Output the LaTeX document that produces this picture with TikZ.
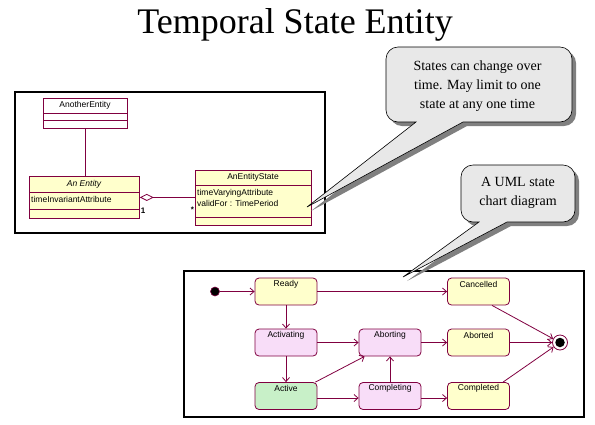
\documentclass[tikz,border=0pt]{standalone}
\usepackage{fontspec}
\setmainfont{Liberation Serif}
\setsansfont{Liberation Sans}
\usetikzlibrary{arrows.meta,calc}
\definecolor{umlline}{RGB}{128,0,64}
\definecolor{classfill}{RGB}{255,255,204}
\definecolor{pinkfill}{RGB}{248,221,248}
\definecolor{greenfill}{RGB}{200,240,200}
\definecolor{callfill}{RGB}{232,232,232}
\definecolor{shadowgray}{RGB}{128,128,128}
\newcommand\bubbleOne{(416,122) -- (307,207) -- (463,122) -- (560,122) arc[start angle=90,end angle=0,radius=12] -- (572,59) arc[start angle=0,end angle=-90,radius=12] -- (398,47) arc[start angle=-90,end angle=-180,radius=12] -- (386,110) arc[start angle=180,end angle=90,radius=12] -- cycle}
\newcommand\bubbleTwo{(479,222) -- (403,277) -- (507,222) -- (563,222) arc[start angle=90,end angle=0,radius=12] -- (575,177) arc[start angle=0,end angle=-90,radius=12] -- (473,165) arc[start angle=-90,end angle=-180,radius=12] -- (461,210) arc[start angle=180,end angle=90,radius=12] -- cycle}
\begin{document}
\begin{tikzpicture}[x=1pt,y=-1pt,
  frame/.style={draw=black,line width=2.5pt},
  classbox/.style={draw=umlline,fill=classfill,line width=0.8pt,inner sep=0pt,anchor=north west},
  divider/.style={draw=umlline,line width=0.8pt},
  ctext/.style={font=\sffamily\fontsize{8.5}{10}\selectfont,inner sep=0pt},
  statebox/.style={draw=umlline,line width=0.8pt,rounded corners=4pt,minimum width=62pt,minimum height=27pt,inner sep=0pt},
  stext/.style={font=\sffamily\fontsize{8.5}{10}\selectfont,inner sep=0pt},
  trans/.style={draw=umlline,line width=0.8pt,-{Straight Barb[length=4pt,width=7pt]}},
  calltext/.style={font=\fontsize{14}{19}\selectfont,align=center,inner sep=0pt},
  bubble/.style={fill=callfill,draw=black,line width=0.6pt},
  bubbleshadow/.style={fill=shadowgray}
]
\useasboundingbox (0,0) rectangle (595,424);

% title
\node[font=\fontsize{36}{40}\selectfont,anchor=base,inner sep=0pt] (title) at (295,33) {Temporal State Entity};

% ---------- class diagram ----------
\draw[frame] (15,92) rectangle (325,233);

\node[classbox,fill=white,minimum width=84pt,minimum height=30pt] (another) at (43,98) {};
\draw[divider] (43,113) -- (127,113) (43,120) -- (127,120);
\node[ctext] (anotherT) at (85,105.5) {AnotherEntity};

\node[classbox,minimum width=110pt,minimum height=42pt] (entity) at (29,176) {};
\draw[divider] (29,192) -- (139,192) (29,209) -- (139,209);
\node[ctext,font=\sffamily\itshape\fontsize{8.5}{10}\selectfont] (entityT) at (84,184) {An Entity};
\node[ctext,anchor=west] (entityA) at (31,199.5) {timeInvariantAttribute};

\node[classbox,minimum width=116pt,minimum height=55pt] (state) at (195,170) {};
\draw[divider] (195,185) -- (311,185) (195,217) -- (311,217);
\node[ctext] (stateT) at (253,177.5) {AnEntityState};
\node[ctext,anchor=west] (stateA1) at (197,193.5) {timeVaryingAttribute};
\node[ctext,anchor=west] (stateA2) at (197,203.5) {validFor : TimePeriod};

\draw[umlline,line width=0.8pt] (another.south) -- (another.south |- entity.north);
\draw[umlline,line width=0.8pt,{Diamond[open,length=14pt,width=7pt,fill=white]}-] (entity.east) -- (entity.east -| state.west);
\node[ctext,font=\sffamily\bfseries\fontsize{8}{10}\selectfont] (mult1) at (143,211) {1};
\node[ctext,font=\sffamily\bfseries\fontsize{8}{10}\selectfont] (multS) at (192.5,210) {*};

% ---------- state chart ----------
\draw[frame] (184,271) rectangle (584,417);

\node[circle,fill=black,draw=umlline,line width=0.6pt,minimum size=9pt,inner sep=0pt] (init) at (215,291.5) {};
\node[circle,draw=umlline,fill=white,line width=0.8pt,minimum size=15pt,inner sep=0pt] (final) at (560,342.5) {};
\node[circle,fill=black,minimum size=9.5pt,inner sep=0pt] (finaldot) at (final) {};

\node[statebox,fill=classfill] (ready) at (286,291.5) {};
\node[statebox,fill=classfill] (cancelled) at (478.5,291.5) {};
\node[statebox,fill=pinkfill] (activating) at (286,342.5) {};
\node[statebox,fill=pinkfill] (aborting) at (390,342.5) {};
\node[statebox,fill=classfill] (aborted) at (478.5,342.5) {};
\node[statebox,fill=greenfill] (active) at (286,396) {};
\node[statebox,fill=pinkfill] (completing) at (390,396) {};
\node[statebox,fill=classfill] (completed) at (478.5,396) {};

\node[stext] (readyT) at ([yshift=-6.5pt]ready.north) {Ready};
\node[stext] (cancelledT) at ([yshift=-6.5pt]cancelled.north) {Cancelled};
\node[stext] (activatingT) at ([yshift=-6.5pt]activating.north) {Activating};
\node[stext] (abortingT) at ([yshift=-6.5pt]aborting.north) {Aborting};
\node[stext] (abortedT) at ([yshift=-6.5pt]aborted.north) {Aborted};
\node[stext] (activeT) at ([yshift=-6.5pt]active.north) {Active};
\node[stext] (completingT) at ([yshift=-6.5pt]completing.north) {Completing};
\node[stext] (completedT) at ([yshift=-6.5pt]completed.north) {Completed};

\draw[trans] (init) -- (ready.west);
\draw[trans] (ready.east) -- (cancelled.west);
\draw[trans] (ready.south) -- (activating.north);
\draw[trans] (activating.south) -- (active.north);
\draw[trans] (activating.east) -- (aborting.west);
\draw[trans] (aborting.east) -- (aborted.west);
\draw[trans] (aborted.east) -- (final);
\draw[trans] ([xshift=13.5pt]cancelled.south) -- (final);
\draw[trans] ([xshift=24.5pt]completed.north) -- (final);
\draw[trans] ([xshift=-2pt]active.north east) -- ([xshift=6pt]aborting.south west);
\draw[trans] ([yshift=-2pt]active.east) -- ([yshift=-2pt]completing.west);
\draw[trans] ([yshift=-2pt]completing.east) -- ([yshift=-2pt]completed.west);
\draw[trans] (completing.north) -- (aborting.south);

% ---------- callouts ----------
\begin{scope}[shift={(4,4)}]
  \fill[bubbleshadow] \bubbleOne;
\end{scope}
\draw[bubble] \bubbleOne;
\node[calltext] (note1) at (477.5,86) {States can change over\\time. May limit to one\\state at any one time};

\begin{scope}[shift={(4,4)}]
  \fill[bubbleshadow] \bubbleTwo;
\end{scope}
\draw[bubble] \bubbleTwo;
\node[calltext] (note2) at (518,193) {A UML state\\chart diagram};
\end{tikzpicture}
\end{document}
